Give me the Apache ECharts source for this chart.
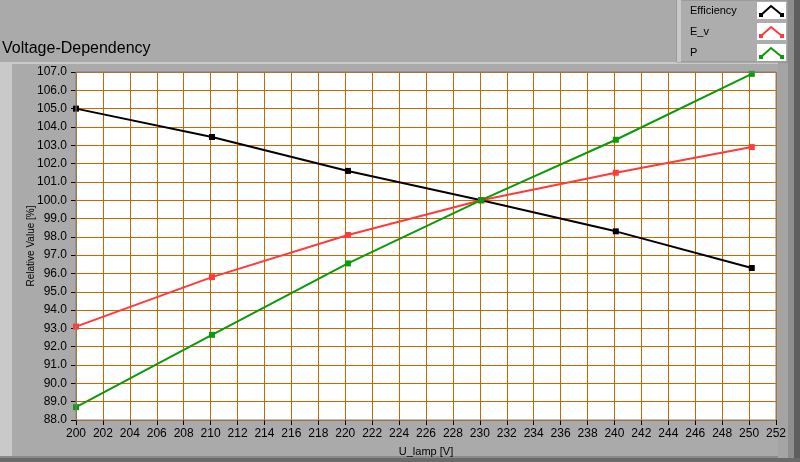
<!DOCTYPE html>
<html><head><meta charset="utf-8">
<script src="https://cdn.jsdelivr.net/npm/echarts@6/dist/echarts.min.js"></script>
<style>html,body{margin:0;padding:0;background:#aaaaaa}#c{width:800px;height:462px}</style>
</head><body><div id="c"></div>
<script>
const voltages = [200.0, 210.1, 220.2, 230.1, 240.1, 250.2];
const efficiency = [105.0, 103.45, 101.6, 100.0, 98.3, 96.3];
const ev = [93.1, 95.8, 98.1, 100.0, 101.5, 102.9];
const power = [88.7, 92.65, 96.55, 100.0, 103.3, 106.9];
const seriesNames = ['Efficiency', 'E_v', 'P'];
const seriesColors = ['#000000', '#ff3a3a', '#0a9a0a'];
const xTicks = {min: 200, max: 252, step: 2};
const yTicks = {min: 88, max: 107, step: 1};

const chart = echarts.init(document.getElementById('c'), null, {renderer: 'canvas'});
const font = 'Liberation Sans';
function mk(name, vals, color) {
  return {
    name: name, type: 'line', data: voltages.map((v, i) => [v, vals[i]]),
    symbol: 'rect', symbolSize: 6, showSymbol: true,
    lineStyle: {color: color, width: 2}, itemStyle: {color: color},
    emphasis: {disabled: true}, animation: false, z: 5
  };
}
const legendGraphics = [];
seriesNames.forEach((n, i) => {
  const y0 = 2 + i * 21;
  legendGraphics.push({type: 'text', left: 690, top: y0 + 3, style: {text: n, font: '11px "' + font + '"', fill: '#000'}});
  legendGraphics.push({type: 'rect', shape: {x: 757, y: y0, width: 29, height: 17}, style: {fill: '#ffffff'}});
  legendGraphics.push({type: 'polyline', shape: {points: [[761, y0 + 13], [771, y0 + 4], [782, y0 + 13]]}, style: {stroke: seriesColors[i], lineWidth: 2, fill: null}});
  legendGraphics.push({type: 'rect', shape: {x: 759, y: y0 + 11, width: 4, height: 4}, style: {fill: seriesColors[i]}});
  legendGraphics.push({type: 'rect', shape: {x: 780, y: y0 + 11, width: 4, height: 4}, style: {fill: seriesColors[i]}});
});

chart.setOption({
  backgroundColor: '#aaaaaa',
  animation: false,
  graphic: [
    {type: 'rect', shape: {x: 0, y: 62, width: 790, height: 396}, style: {fill: '#aaaaaa'}, z: -10},
    {type: 'rect', shape: {x: 0, y: 62, width: 12, height: 396}, style: {fill: '#c9c9c9'}, z: -9},
    {type: 'rect', shape: {x: 0, y: 62, width: 790, height: 2}, style: {fill: '#c9c9c9'}, z: -9},
    {type: 'rect', shape: {x: 0, y: 456, width: 790, height: 2}, style: {fill: '#8a8a8a'}, z: -9},
    {type: 'rect', shape: {x: 778, y: 62, width: 12, height: 396}, style: {fill: '#a4a4a4'}, z: -9},
    {type: 'rect', shape: {x: 788, y: 0, width: 6, height: 462}, style: {fill: '#8e8e8e'}, z: -9},
    {type: 'rect', shape: {x: 794, y: 0, width: 6, height: 462}, style: {fill: '#5e5e5e'}, z: -9},
    {type: 'rect', shape: {x: 0, y: 458, width: 800, height: 4}, style: {fill: '#6a6a6a'}, z: -9},
    {type: 'rect', shape: {x: 677, y: 0, width: 111, height: 62}, style: {fill: '#adadad', stroke: '#8a8a8a', lineWidth: 1}, z: -8},
    {type: 'rect', shape: {x: 677, y: 0, width: 4, height: 62}, style: {fill: '#c9c9c9'}, z: -7},
    {type: 'text', left: 2, top: 41, style: {text: 'Voltage-Dependency', font: '16px "' + font + '"', fill: '#000'}},
    {type: 'rect', shape: {x: 76, y: 72, width: 700, height: 348}, style: {fill: 'none', stroke: '#808080', lineWidth: 1}, z: 10}
  ].concat(legendGraphics),
  grid: {left: 76, right: 24, top: 72, bottom: 42, backgroundColor: '#ffffff', show: true, borderWidth: 0},
  xAxis: {
    type: 'value', min: xTicks.min, max: xTicks.max, interval: xTicks.step,
    name: 'U_lamp [V]', nameLocation: 'middle', nameGap: 26, nameMoveOverlap: false,
    nameTextStyle: {fontFamily: font, fontSize: 11, color: '#000'},
    axisLine: {show: false},
    axisTick: {show: true, length: 5, lineStyle: {color: '#000'}},
    axisLabel: {fontFamily: font, fontSize: 12, color: '#000', margin: 8},
    splitLine: {show: true, lineStyle: {color: '#cc6600', width: 1}}
  },
  yAxis: {
    type: 'value', min: yTicks.min, max: yTicks.max, interval: yTicks.step,
    name: 'Relative Value [%]', nameLocation: 'middle', nameGap: 40, nameRotate: 90, nameMoveOverlap: false,
    nameTextStyle: {fontFamily: font, fontSize: 10, color: '#000'},
    axisLine: {show: false},
    axisTick: {show: true, length: 5, lineStyle: {color: '#000'}},
    axisLabel: {fontFamily: font, fontSize: 12, color: '#000', margin: 9, formatter: v => v.toFixed(1)},
    splitLine: {show: true, lineStyle: {color: '#cc6600', width: 1}}
  },
  series: [mk(seriesNames[0], efficiency, seriesColors[0]), mk(seriesNames[1], ev, seriesColors[1]), mk(seriesNames[2], power, seriesColors[2])]
});
</script></body></html>
